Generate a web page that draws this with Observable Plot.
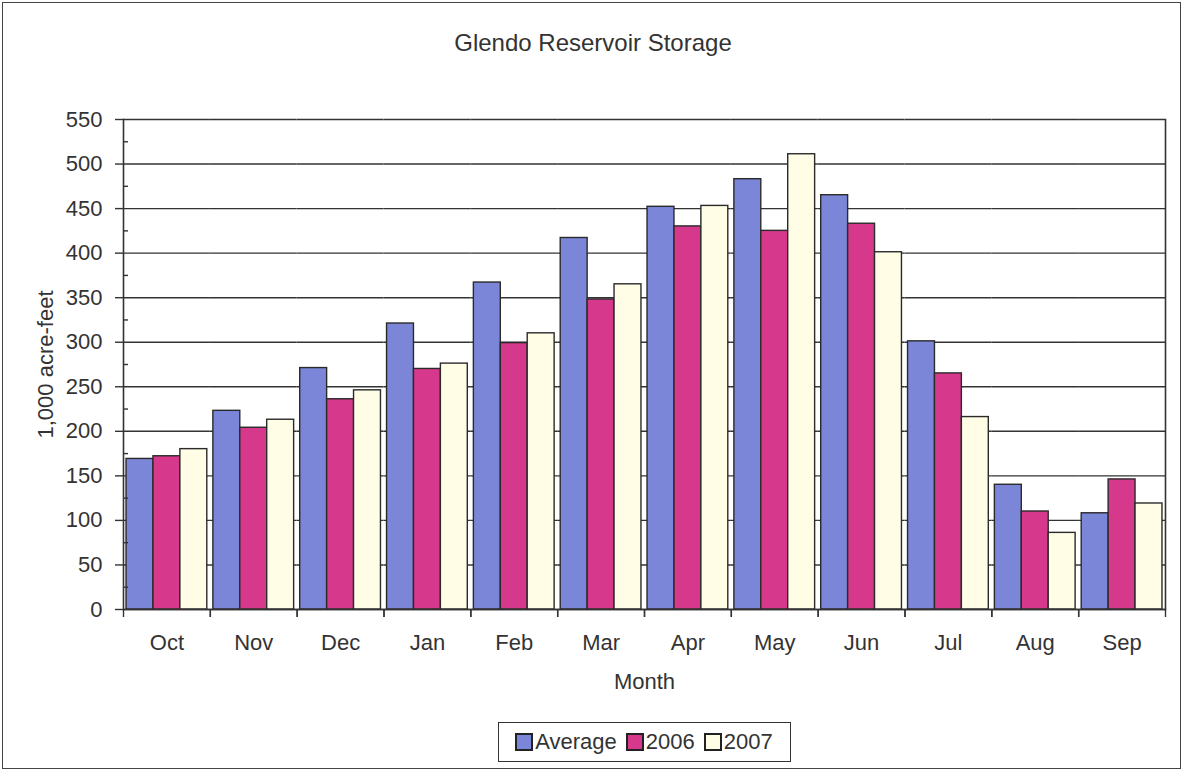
<!DOCTYPE html>
<html><head><meta charset="utf-8">
<script src="https://cdn.jsdelivr.net/npm/d3@7"></script>
<script src="https://cdn.jsdelivr.net/npm/@observablehq/plot@0.6"></script>
<style>
body{margin:0;background:#fff;}
#wrap{position:relative;width:1183px;height:771px;overflow:hidden;font-family:"Liberation Sans",Arial,sans-serif;color:#333}
#border{position:absolute;left:2px;top:2px;width:1177px;height:765px;border:1.5px solid #444;pointer-events:none}
#title{position:absolute;left:0;top:31px;width:1186px;text-align:center;font-size:24px;line-height:24px}
#chart{position:absolute;left:0;top:0}
#legend{position:absolute;left:498px;top:722px;width:291px;height:38px;border:1.5px solid #333;display:flex;align-items:center;justify-content:center;background:#fff}
#legend *{font-family:"Liberation Sans",Arial,sans-serif !important;font-size:22px !important;color:#333 !important}
#legend > div{margin:0 !important;min-height:0 !important;align-items:center}
#legend span{margin-right:10px !important;display:inline-flex;align-items:center}
#legend span:last-child{margin-right:0 !important}
#legend svg{margin-right:3px !important;overflow:visible}
#legend svg rect{stroke:#222;stroke-width:2px}
</style></head><body>
<div id="wrap"><div id="chart"></div><div id="title">Glendo Reservoir Storage</div><div id="legend"></div><div id="border"></div></div>
<script>
const months = ["Oct","Nov","Dec","Jan","Feb","Mar","Apr","May","Jun","Jul","Aug","Sep"];
const seriesNames = ["Average","2006","2007"];
const average = [169,223,271,321,367,417,452,483,465,301,140,108];
const y2006   = [172,204,236,270,299,348,430,425,433,265,110,146];
const y2007   = [180,213,246,276,310,365,453,511,401,216,86,119];
const yTicks = [0,50,100,150,200,250,300,350,400,450,500,550];
const minorTicks = [25,75,125,175,225,275,325,375,425,475,525];
const colors = ["#7b86d8","#d6398b","#fffde6"];

const seriesValues = [average, y2006, y2007];
const rows = months.flatMap((m, i) => seriesNames.map((s, k) => ({month: m, series: s, value: seriesValues[k][i]})));

const W = 1183, H = 700, ml = 123, mr = 18, mt = 119, mb = 91;
const step = (W - ml - mr) / months.length;
const font = '"Liberation Sans",Arial,sans-serif';

const chart = Plot.plot({
  width: W, height: H, marginLeft: ml, marginRight: mr, marginTop: mt, marginBottom: mb,
  style: {fontFamily: font, fontSize: "22px", color: "#333", background: "transparent"},
  fx: {domain: months, padding: 0, round: false},
  x: {domain: seriesNames, paddingInner: 0, paddingOuter: 0.113, round: false, axis: null},
  y: {domain: [0, 550]},
  color: {domain: seriesNames, range: colors},
  marks: [
    Plot.gridY(yTicks, {stroke: "#333", strokeOpacity: 1, strokeWidth: 1.4}),
    Plot.barY(rows, {fx: "month", x: "series", y: "value", fill: "series", stroke: "#2a2a2a", strokeWidth: 1.4}),
    Plot.ruleY([0], {stroke: "#333", strokeWidth: 1.6}),
    Plot.frame({anchor: "left", facetAnchor: "left", stroke: "#333", strokeWidth: 1.6}),
    Plot.frame({anchor: "right", facetAnchor: "right", stroke: "#333", strokeWidth: 1.6}),
    Plot.axisY(yTicks, {tickSize: 8, tickPadding: 13, label: "1,000 acre-feet", labelAnchor: "center", labelOffset: 86, labelArrow: "none", stroke: "#333", strokeWidth: 1.4}),
    Plot.axisY(minorTicks, {tickSize: -5, tickFormat: () => "", label: null, stroke: "#333", strokeWidth: 1.4}),
    Plot.axisFx({anchor: "bottom", tickSize: 8, tickFormat: () => "", label: null, dx: -step / 2, stroke: "#333", strokeWidth: 1.4}),
    Plot.axisFx(["Sep"], {anchor: "bottom", tickSize: 8, tickFormat: () => "", label: null, dx: step / 2, stroke: "#333", strokeWidth: 1.4}),
    Plot.axisFx({anchor: "bottom", tickSize: 0, tickPadding: 25, label: "Month", labelAnchor: "center", labelOffset: 79, labelArrow: "none"})
  ]
});
document.getElementById("chart").appendChild(chart);

const legend = Plot.legend({color: {domain: seriesNames, range: colors}, legend: "swatches", swatchSize: 16});
document.getElementById("legend").appendChild(legend);
</script>
</body></html>
